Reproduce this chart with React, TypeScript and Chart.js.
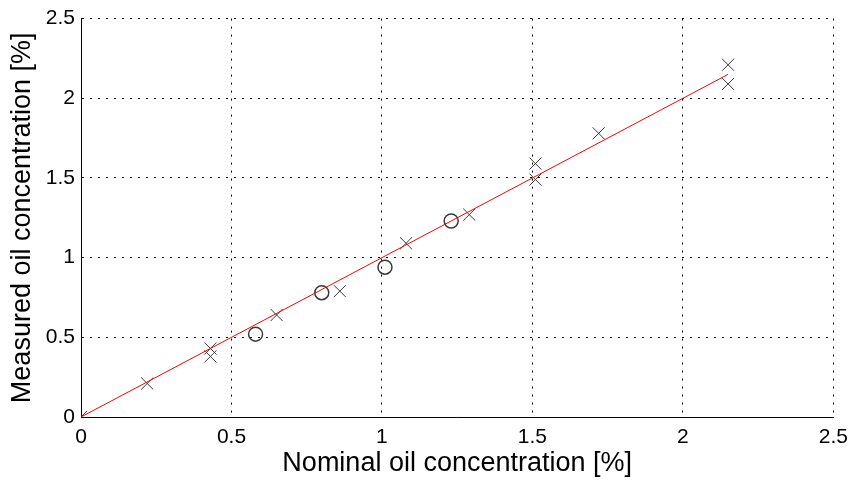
import React, { useEffect, useRef } from "react";
import { Chart, registerables } from "chart.js";

Chart.register(...registerables);

const crossX = [0, 0.22, 0.43, 0.43, 0.65, 0.86, 1.08, 1.29, 1.51, 1.51, 1.72, 2.15, 2.15];
const crossY = [0, 0.21, 0.43, 0.38, 0.64, 0.79, 1.09, 1.27, 1.59, 1.49, 1.78, 2.21, 2.09];
const circleX = [0.58, 0.8, 1.01, 1.23];
const circleY = [0.52, 0.78, 0.94, 1.23];
const fitX = [0, 2.15];
const fitY = [0, 2.15];
const xTitle = "Nominal oil concentration [%]";
const yTitle = "Measured oil concentration [%]";

const FONT = "'Liberation Sans', Arial, Helvetica, sans-serif";
const fmt = (v: any) => String(Number(v));

export default function App() {
  const ref = useRef<HTMLCanvasElement | null>(null);
  useEffect(() => {
    if (!ref.current) return;
    const pts = (xs: number[], ys: number[]) => xs.map((x, i) => ({ x, y: ys[i] }));
    const chart = new Chart(ref.current, {
      type: "scatter",
      data: {
        datasets: [
          {
            label: "fit",
            data: pts(fitX, fitY),
            showLine: true,
            borderColor: "#ff0000",
            borderWidth: 1,
            pointRadius: 0,
            fill: false,
          } as any,
          {
            label: "cross",
            data: pts(crossX, crossY),
            pointStyle: "crossRot",
            pointRadius: 8.5,
            borderColor: "#3a3a3a",
            backgroundColor: "transparent",
            pointBorderWidth: 1,
          } as any,
          {
            label: "circle",
            data: pts(circleX, circleY),
            pointStyle: "circle",
            pointRadius: 7,
            borderColor: "#3a3a3a",
            backgroundColor: "transparent",
            pointBorderWidth: 1.5,
          } as any,
        ],
      },
      options: {
        animation: false,
        responsive: false,
        layout: { padding: { top: 17, right: 18, left: 0, bottom: 0 } },
        plugins: { legend: { display: false }, tooltip: { enabled: false } },
        scales: {
          x: {
            type: "linear",
            min: 0,
            max: 2.5,
            ticks: { stepSize: 0.5, color: "#000", font: { family: FONT, size: 21 }, padding: 8, maxRotation: 0, callback: fmt },
            grid: { color: "#000", lineWidth: 1, drawTicks: false },
            border: { display: true, color: "#000", width: 1, dash: [2, 6] },
            title: { display: true, text: xTitle, color: "#000", font: { family: FONT, size: 27 }, padding: { top: 0, bottom: 3 } },
            afterFit: (s: any) => { s.height = 66; },
          },
          y: {
            type: "linear",
            min: 0,
            max: 2.5,
            ticks: { stepSize: 0.5, color: "#000", font: { family: FONT, size: 21 }, padding: 6, callback: fmt },
            grid: { color: "#000", lineWidth: 1, drawTicks: false },
            border: { display: true, color: "#000", width: 1, dash: [2, 6] },
            title: { display: true, text: yTitle, color: "#000", font: { family: FONT, size: 27 }, padding: { top: 6, bottom: 0 } },
            afterFit: (s: any) => { s.width = 81; },
          },
        },
      } as any,
    });
    return () => chart.destroy();
  }, []);
  return (
    <div style={{ position: "absolute", left: 0, top: 0, width: 856, height: 483, background: "#fff" }}>
      <canvas ref={ref} width={856} height={483} style={{ display: "block" }} />
    </div>
  );
}
